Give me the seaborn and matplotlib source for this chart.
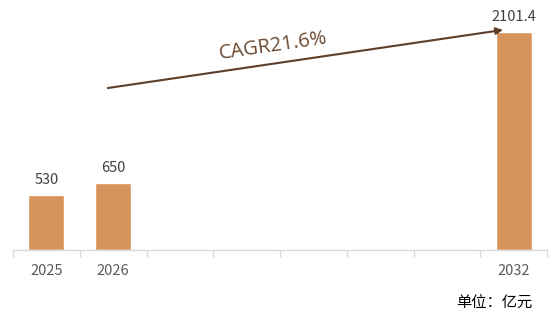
import matplotlib
matplotlib.use("Agg")
import matplotlib.pyplot as plt
import seaborn as sns
import pandas as pd
import numpy as np

years = ["2025", "2026", "2027", "2028", "2029", "2030", "2031", "2032"]
tick_labels = ["2025", "2026", "", "", "", "", "", "2032"]
values = [530, 650, np.nan, np.nan, np.nan, np.nan, np.nan, 2101.4]
value_labels = ["530", "650", "", "", "", "", "", "2101.4"]
cagr_text = "CAGR21.6%"
unit_text = "单位：亿元"

sns.set_theme(style="white")
plt.rcParams['font.family'] = ['Noto Sans CJK SC', 'DejaVu Sans']

df = pd.DataFrame({"year": years, "value": values})

fig = plt.figure(figsize=(5.59, 3.24), dpi=100)
ax = fig.add_axes([13/559, 1-250/324, (547-13)/559, 240/324])
sns.barplot(data=df, x="year", y="value", color="#D6935A", saturation=1,
            width=0.54, ax=ax)
ax.set_xlim(-0.5, len(years) - 0.5)
ax.set_ylim(0, 2313)

for i, (v, lab) in enumerate(zip(values, value_labels)):
    if lab:
        ax.text(i, v + 75, lab, ha="center", va="bottom", fontsize=10.5, color="#404040")

ax.set_xticks(range(len(years)))
ax.set_xticklabels(tick_labels, fontsize=10.5, color="#595959")
ax.tick_params(axis="x", length=0, pad=10)
ax.set_xticks(np.arange(-0.5, len(years), 1.0), minor=True)
ax.tick_params(axis="x", which="minor", length=5, color="#d9d9d9", width=1, bottom=True)
ax.set_yticks([])
ax.set_xlabel("")
ax.set_ylabel("")
for s in ["top", "right", "left"]:
    ax.spines[s].set_visible(False)
ax.spines["bottom"].set_color("#d9d9d9")
ax.spines["bottom"].set_linewidth(1)

ax.annotate("", xy=(6.84, 2121), xytext=(0.92, 1561),
            arrowprops=dict(arrowstyle="-|>", color="#5B3F2A", lw=1.5,
                            mutation_scale=10, shrinkA=0, shrinkB=0))
ax.text(3.4, 1960, cagr_text, ha="center", va="center", rotation=8.3,
        fontsize=14.5, color="#6B4A32", family=['Open Sans', 'DejaVu Sans'])

fig.text(494/559, 1-303/324, unit_text, ha="center", va="center", fontsize=11, color="#000000")

fig.savefig("out.png", dpi=100)
